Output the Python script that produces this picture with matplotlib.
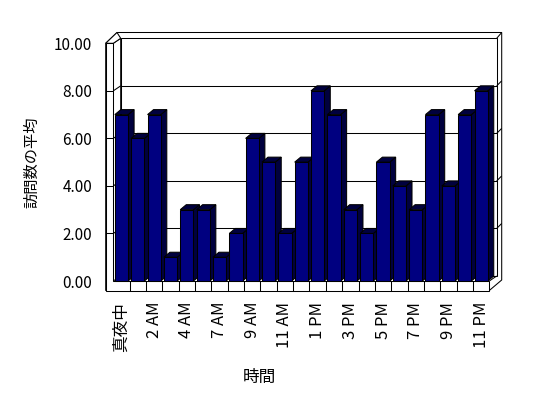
import matplotlib
matplotlib.use("Agg")
import matplotlib.pyplot as plt
from matplotlib.patches import Polygon

plt.rcParams['font.family'] = ['Noto Sans CJK JP', 'DejaVu Sans']

# 時間帯ごとの訪問数の平均
hours = ['真夜中', '1 AM', '2 AM', '3 AM', '4 AM', '6 AM', '7 AM', '8 AM',
         '9 AM', '10 AM', '11 AM', '12 PM', '1 PM', '2 PM', '3 PM', '4 PM',
         '5 PM', '6 PM', '7 PM', '8 PM', '9 PM', '10 PM', '11 PM']
visits = [7, 6, 7, 1, 3, 3, 1, 2, 6, 5, 2, 5,
          8, 7, 3, 2, 5, 4, 3, 7, 4, 7, 8]
y_ticks = [0, 2, 4, 6, 8, 10]

W, H = 548, 398
# front plane of the plot in pixels
AX_L, AX_R, AX_T, AX_B = 113.3, 489.3, 43.3, 281.0

fig = plt.figure(figsize=(W / 100, H / 100), dpi=100)
ax = fig.add_axes([AX_L / W, 1 - AX_B / H, (AX_R - AX_L) / W, (AX_B - AX_T) / H])

n = len(hours)
x0, x1 = -0.5, n - 0.5
ymax = y_ticks[-1]
ax.set_xlim(x0, x1)
ax.set_ylim(0, ymax)

# pixel -> data
kx = n / (AX_R - AX_L)
ky = ymax / (AX_B - AX_T)


def p(x, y, ox=0.0, oy=0.0):
    return (x + ox * kx, y + oy * ky)


lw = 0.75
frame = dict(facecolor='white', edgecolor='black', linewidth=lw, clip_on=False, joinstyle='miter')
line = dict(color='black', linewidth=lw, clip_on=False, solid_capstyle='butt')

T = 7.6     # wall thickness
FT = 9.5    # floor thickness
DX, DY = 7.4, 5.0   # wall depth
RX = 5.0    # back wall side

# outer silhouette
ax.add_patch(Polygon([p(x0, 0, -T, -FT), p(x0, ymax, -T), p(x0, ymax, -T + 11.3, 10.8),
                      p(x1, ymax, DX + RX, 10.8), p(x1, 0, DX + RX, 1.0), p(x1, 0, 0, -FT)],
                     zorder=1, **frame))
# back wall
ax.add_patch(Polygon([p(x0, 0, DX, DY), p(x0, ymax, DX, DY), p(x1, ymax, DX, DY), p(x1, 0, DX, DY)],
                     zorder=2, **frame))
# left wall inside face
ax.add_patch(Polygon([p(x0, 0), p(x0, ymax), p(x0, ymax, DX, DY), p(x0, 0, DX, DY)],
                     zorder=2, **frame))
# left wall top
ax.add_patch(Polygon([p(x0, ymax, -T), p(x0, ymax), p(x0, ymax, DX, DY), p(x0, ymax, -T + 11.3, 10.8)],
                     zorder=2, **frame))
# back wall top / right corner
ax.plot(*zip(p(x1, ymax, DX, DY), p(x1, ymax, DX + RX, 10.8)), zorder=2, **line)
# left wall front face + floor front face
ax.add_patch(Polygon([p(x0, 0, -T, -FT), p(x1, 0, 0, -FT), p(x1, 0), p(x0, 0), p(x0, ymax), p(x0, ymax, -T)],
                     zorder=3, **frame))
ax.plot(*zip(p(x1, 0), p(x1, 0, DX, DY)), zorder=2, **line)

# gridlines and wall ticks
for v in y_ticks[1:-1]:
    ax.plot(*zip(p(x0, v, DX, DY), p(x1, v, DX, DY)), zorder=2.5, **line)
    ax.plot(*zip(p(x0, v), p(x0, v, DX, DY)), zorder=2.5, **line)
    ax.plot(*zip(p(x0, v, -T), p(x0, v)), zorder=3.5, **line)
    ax.plot(*zip(p(x1, v, DX, DY), p(x1, v, DX + RX, DY + RX)), zorder=2.5, **line)

# category ticks on floor front
for k in range(1, n):
    ax.plot(*zip(p(x0 + k, 0, 0, -FT), p(x0 + k, 0)), zorder=3.5, **line)

# bars with 3D top and side
BDX, BDY = 6.0, 5.0
bars = ax.bar(range(n), visits, width=0.81, color='#000080', edgecolor='black', linewidth=lw)
for i, r in enumerate(bars):
    bl, bw, bh = r.get_x(), r.get_width(), r.get_height()
    br = bl + bw
    side = Polygon([p(br, 0), p(br, bh), p(br, bh, BDX, BDY), p(br, 0, BDX, BDY)],
                   facecolor='#00003e', edgecolor='black', linewidth=lw, zorder=10 + 2 * i, clip_on=False)
    top = Polygon([p(bl, bh), p(br, bh), p(br, bh, BDX, BDY), p(bl, bh, BDX, BDY)],
                  facecolor='#00003e', edgecolor='black', linewidth=lw, zorder=10 + 2 * i, clip_on=False)
    ax.add_patch(side)
    ax.add_patch(top)
    r.set_zorder(11 + 2 * i)
    r.set_clip_on(False)

for s in ax.spines.values():
    s.set_visible(False)
ax.patch.set_visible(False)

ax.set_yticks(y_ticks, [f'{v:.2f}' for v in y_ticks])
ax.set_xticks(range(0, n, 2), hours[::2], rotation=90)
ax.tick_params(axis='y', length=0, pad=15.3, labelsize=11)
ax.tick_params(axis='x', length=0, pad=15.0, labelsize=12)

ax.set_ylabel('訪問数の平均', fontsize=11, va='center')
ax.yaxis.set_label_coords(-0.216, 0.5)
ax.set_xlabel('時間', fontsize=12, va='center')
ax.xaxis.set_label_coords(0.3875, -0.404)

fig.savefig('out.png', dpi=100)
